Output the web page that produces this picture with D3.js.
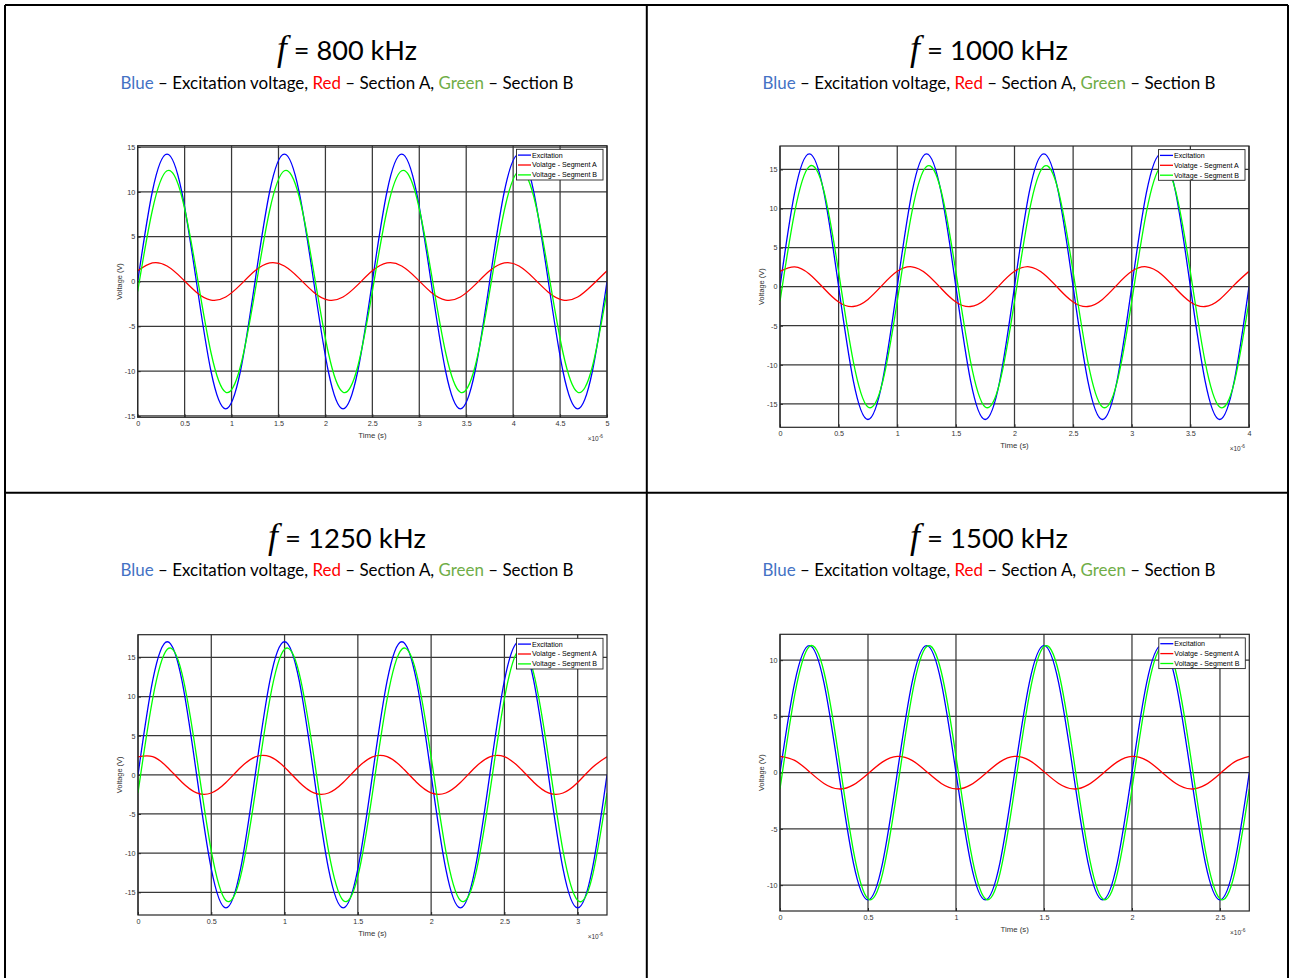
<!DOCTYPE html>
<html><head><meta charset="utf-8">
<script src="https://cdn.jsdelivr.net/npm/d3@7"></script>
<style>body{margin:0;background:#fff}svg{display:block}</style>
</head><body>
<svg id="c" width="1290" height="978"></svg>
<script>
// ---------------- DATA ----------------
const freqsKHz = [800, 1000, 1250, 1500];
const seriesNames = ["Excitation", "Volatge - Segment A", "Voltage - Segment B"];
const seriesColors = ["#0000ff", "#ff0000", "#00ff00"];

// sample times in microseconds (1/8-period steps, 4 periods shown per panel)
const time800 = [0,0.15625,0.3125,0.46875,0.625,0.78125,0.9375,1.09375,1.25,1.40625,1.5625,1.71875,1.875,2.03125,2.1875,2.34375,2.5,2.65625,2.8125,2.96875,3.125,3.28125,3.4375,3.59375,3.75,3.90625,4.0625,4.21875,4.375,4.53125,4.6875,4.84375,5];
const time1000 = [0,0.125,0.25,0.375,0.5,0.625,0.75,0.875,1,1.125,1.25,1.375,1.5,1.625,1.75,1.875,2,2.125,2.25,2.375,2.5,2.625,2.75,2.875,3,3.125,3.25,3.375,3.5,3.625,3.75,3.875,4];
const time1250 = [0,0.1,0.2,0.3,0.4,0.5,0.6,0.7,0.8,0.9,1,1.1,1.2,1.3,1.4,1.5,1.6,1.7,1.8,1.9,2,2.1,2.2,2.3,2.4,2.5,2.6,2.7,2.8,2.9,3,3.1,3.2];
const time1500 = [0,0.08333,0.16667,0.25,0.33333,0.41667,0.5,0.58333,0.66667,0.75,0.83333,0.91667,1,1.08333,1.16667,1.25,1.33333,1.41667,1.5,1.58333,1.66667,1.75,1.83333,1.91667,2,2.08333,2.16667,2.25,2.33333,2.41667,2.5,2.58333,2.66667];

// voltages (V)
const excitation800 = [0,10.04,14.2,10.04,0,-10.04,-14.2,-10.04, 0,10.04,14.2,10.04,0,-10.04,-14.2,-10.04, 0,10.04,14.2,10.04,0,-10.04,-14.2,-10.04, 0,10.04,14.2,10.04,0,-10.04,-14.2,-10.04, 0];
const segmentA800 = [1.19,2.07,1.73,0.38,-1.19,-2.07,-1.73,-0.38, 1.19,2.07,1.73,0.38,-1.19,-2.07,-1.73,-0.38, 1.19,2.07,1.73,0.38,-1.19,-2.07,-1.73,-0.38, 1.19,2.07,1.73,0.38,-1.19,-2.07,-1.73,-0.38, 1.19];
const segmentB800 = [-1.10,7.95,12.35,9.51,1.10,-7.95,-12.35,-9.51, -1.10,7.95,12.35,9.51,1.10,-7.95,-12.35,-9.51, -1.10,7.95,12.35,9.51,1.10,-7.95,-12.35,-9.51, -1.10,7.95,12.35,9.51,1.10,-7.95,-12.35,-9.51, -1.10];

const excitation1000 = [0,12.02,17,12.02,0,-12.02,-17,-12.02, 0,12.02,17,12.02,0,-12.02,-17,-12.02, 0,12.02,17,12.02,0,-12.02,-17,-12.02, 0,12.02,17,12.02,0,-12.02,-17,-12.02, 0];
const segmentA1000 = [1.96,2.54,1.63,-0.23,-1.96,-2.54,-1.63,0.23, 1.96,2.54,1.63,-0.23,-1.96,-2.54,-1.63,0.23, 1.96,2.54,1.63,-0.23,-1.96,-2.54,-1.63,0.23, 1.96,2.54,1.63,-0.23,-1.96,-2.54,-1.63,0.23, 1.96];
const segmentB1000 = [-1.88,9.55,15.39,12.21,1.88,-9.55,-15.39,-12.21, -1.88,9.55,15.39,12.21,1.88,-9.55,-15.39,-12.21, -1.88,9.55,15.39,12.21,1.88,-9.55,-15.39,-12.21, -1.88,9.55,15.39,12.21,1.88,-9.55,-15.39,-12.21, -1.88];

const excitation1250 = [0,12.02,17,12.02,0,-12.02,-17,-12.02, 0,12.02,17,12.02,0,-12.02,-17,-12.02, 0,12.02,17,12.02,0,-12.02,-17,-12.02, 0,12.02,17,12.02,0,-12.02,-17,-12.02, 0];
const segmentA1250 = [2.30,2.32,0.98,-0.94,-2.30,-2.32,-0.98,0.94, 2.30,2.32,0.98,-0.94,-2.30,-2.32,-0.98,0.94, 2.30,2.32,0.98,-0.94,-2.30,-2.32,-0.98,0.94, 2.30,2.32,0.98,-0.94,-2.30,-2.32,-0.98,0.94, 2.30];
const segmentB1250 = [-2.30,9.71,16.04,12.97,2.30,-9.71,-16.04,-12.97, -2.30,9.71,16.04,12.97,2.30,-9.71,-16.04,-12.97, -2.30,9.71,16.04,12.97,2.30,-9.71,-16.04,-12.97, -2.30,9.71,16.04,12.97,2.30,-9.71,-16.04,-12.97, -2.30];

const excitation1500 = [0,7.99,11.3,7.99,0,-7.99,-11.3,-7.99, 0,7.99,11.3,7.99,0,-7.99,-11.3,-7.99, 0,7.99,11.3,7.99,0,-7.99,-11.3,-7.99, 0,7.99,11.3,7.99,0,-7.99,-11.3,-7.99, 0];
const segmentA1500 = [1.45,1.09,0.09,-0.96,-1.45,-1.09,-0.09,0.96, 1.45,1.09,0.09,-0.96,-1.45,-1.09,-0.09,0.96, 1.45,1.09,0.09,-0.96,-1.45,-1.09,-0.09,0.96, 1.45,1.09,0.09,-0.96,-1.45,-1.09,-0.09,0.96, 1.45];
const segmentB1500 = [-1.45,6.90,11.21,8.95,1.45,-6.90,-11.21,-8.95, -1.45,6.90,11.21,8.95,1.45,-6.90,-11.21,-8.95, -1.45,6.90,11.21,8.95,1.45,-6.90,-11.21,-8.95, -1.45,6.90,11.21,8.95,1.45,-6.90,-11.21,-8.95, -1.45];

// axis extents and tick labels
const xMax = [5, 4, 3.2, 2.66667];
const yMax = [15.15, 18, 17.9, 12.3];
const xTicks800 = [0,0.5,1,1.5,2,2.5,3,3.5,4,4.5,5];
const xTicks1000 = [0,0.5,1,1.5,2,2.5,3,3.5,4];
const xTicks1250 = [0,0.5,1,1.5,2,2.5,3];
const xTicks1500 = [0,0.5,1,1.5,2,2.5];
const yTicks800 = [-15,-10,-5,0,5,10,15];
const yTicks1000 = [-15,-10,-5,0,5,10,15];
const yTicks1250 = [-15,-10,-5,0,5,10,15];
const yTicks1500 = [-10,-5,0,5,10];
const xLabel = "Time (s)";
const yLabel = "Voltage (V)";

// ---------------- LAYOUT ----------------
const svg = d3.select("#c");
const panels = [
  {f: freqsKHz[0], t: time800,  s: [excitation800, segmentA800, segmentB800],   xMax: xMax[0], yMax: yMax[0], xt: xTicks800,  yt: yTicks800,  box: [137.7,145.7,607,417.3], cx: 347, top: 5},
  {f: freqsKHz[1], t: time1000, s: [excitation1000, segmentA1000, segmentB1000], xMax: xMax[1], yMax: yMax[1], xt: xTicks1000, yt: yTicks1000, box: [780,146,1249,427.3],    cx: 989, top: 5},
  {f: freqsKHz[2], t: time1250, s: [excitation1250, segmentA1250, segmentB1250], xMax: xMax[2], yMax: yMax[2], xt: xTicks1250, yt: yTicks1250, box: [138,634.7,607,915],      cx: 347, top: 492.7},
  {f: freqsKHz[3], t: time1500, s: [excitation1500, segmentA1500, segmentB1500], xMax: xMax[3], yMax: yMax[3], xt: xTicks1500, yt: yTicks1500, box: [780,634.3,1249.3,911],   cx: 989, top: 492.7}
];

// table borders
const borders = svg.append("g").attr("stroke", "#000").attr("stroke-width", 2);
[[5,5,5,978],[646.8,5,646.8,978],[1288,5,1288,978],[5,5,1288,5],[5,492.7,1288,492.7]].forEach(l =>
  borders.append("line").attr("x1", l[0]).attr("y1", l[1]).attr("x2", l[2]).attr("y2", l[3]));

function fitText(sel, target, base) {
  const w = sel.node().getComputedTextLength();
  sel.attr("font-size", base * target / w);
}
const tickFmt = d => String(d);

panels.forEach((p, pi) => {
  // ---- headings
  const title = svg.append("text").attr("x", p.cx).attr("y", p.top + 55)
    .attr("text-anchor", "middle").attr("font-family", "Lato, 'Open Sans', sans-serif").attr("font-size", 22).attr("fill", "#000");
  title.append("tspan").attr("font-family", "'Liberation Serif', 'DejaVu Serif', serif").attr("font-style", "italic")
    .attr("font-size", "1.3em").text("f");
  title.append("tspan").attr("font-size", "1em").text(" = " + p.f + " kHz");
  fitText(title, p.f >= 1000 ? 158 : 140, 22);

  const sub = svg.append("text").attr("x", p.cx).attr("y", p.top + 83.5)
    .attr("text-anchor", "middle").attr("font-family", "Lato, 'Open Sans', sans-serif").attr("font-size", 17).attr("fill", "#000");
  sub.append("tspan").attr("fill", "#4472c4").text("Blue");
  sub.append("tspan").text(" \u2013 Excitation voltage, ");
  sub.append("tspan").attr("fill", "#ff0000").text("Red");
  sub.append("tspan").text(" \u2013 Section A, ");
  sub.append("tspan").attr("fill", "#70ad47").text("Green");
  sub.append("tspan").text(" \u2013 Section B");
  fitText(sub, 453, 17);

  // ---- axes
  const [L, T, R, B] = p.box;
  const x = d3.scaleLinear().domain([0, p.xMax]).range([L, R]);
  const y = d3.scaleLinear().domain([-p.yMax, p.yMax]).range([B, T]);
  const g = svg.append("g");
  g.append("rect").attr("x", L).attr("y", T).attr("width", R - L).attr("height", B - T).attr("fill", "#fff");

  const grid = g.append("g").attr("stroke", "#383838").attr("stroke-width", 1.25);
  p.xt.forEach(v => grid.append("line").attr("x1", x(v)).attr("x2", x(v)).attr("y1", T).attr("y2", B));
  p.yt.forEach(v => grid.append("line").attr("y1", y(v)).attr("y2", y(v)).attr("x1", L).attr("x2", R));

  const xAxis = g.append("g").attr("transform", `translate(0,${B})`)
    .call(d3.axisBottom(x).tickValues(p.xt).tickFormat(tickFmt).tickSize(-3).tickPadding(4));
  const yAxis = g.append("g").attr("transform", `translate(${L},0)`)
    .call(d3.axisLeft(y).tickValues(p.yt).tickFormat(tickFmt).tickSize(-3).tickPadding(2.5));
  [xAxis, yAxis].forEach(a => {
    a.select(".domain").remove();
    a.selectAll("line").attr("stroke", "#262626");
    a.selectAll("text").attr("font-family", "'Liberation Sans', Arial, sans-serif").attr("font-size", 7.2).attr("fill", "#333");
  });

  // curves
  const clipId = "clip" + pi;
  g.append("clipPath").attr("id", clipId).append("rect").attr("x", L).attr("y", T).attr("width", R - L).attr("height", B - T);
  const line = d3.line().x(d => x(d[0])).y(d => y(d[1])).curve(d3.curveNatural);
  p.s.forEach((vals, si) => {
    g.append("path").attr("clip-path", `url(#${clipId})`)
      .attr("d", line(p.t.map((t, i) => [t, vals[i]])))
      .attr("fill", "none").attr("stroke", seriesColors[si]).attr("stroke-width", 1.3);
  });

  // box
  g.append("rect").attr("x", L).attr("y", T).attr("width", R - L).attr("height", B - T)
    .attr("fill", "none").attr("stroke", "#262626").attr("stroke-width", 1.2);

  // labels
  g.append("text").attr("x", (L + R) / 2).attr("y", B + 21).attr("text-anchor", "middle")
    .attr("font-family", "'Liberation Sans', Arial, sans-serif").attr("font-size", 7.8).attr("fill", "#333").text(xLabel);
  g.append("text").attr("transform", `translate(${L - 16},${(T + B) / 2}) rotate(-90)`).attr("text-anchor", "middle")
    .attr("font-family", "'Liberation Sans', Arial, sans-serif").attr("font-size", 7.4).attr("fill", "#333").text(yLabel);
  const ex = g.append("text").attr("x", R - 4).attr("y", B + 23.5).attr("text-anchor", "end")
    .attr("font-family", "'Liberation Sans', Arial, sans-serif").attr("font-size", 6.5).attr("fill", "#333");
  ex.append("tspan").text("\u00d710");
  ex.append("tspan").attr("dy", -3).attr("font-size", 4.8).text("-6");

  // legend
  const lw = 86.5, lh = 30.7, lx = R - 4 - lw, ly = T + 3.6;
  const lg = g.append("g");
  lg.append("rect").attr("x", lx).attr("y", ly).attr("width", lw).attr("height", lh)
    .attr("fill", "#fff").attr("stroke", "#262626").attr("stroke-width", 0.9);
  seriesNames.forEach((n, si) => {
    const yy = ly + 5.8 + si * 9.9;
    lg.append("line").attr("x1", lx + 1.5).attr("x2", lx + 14.5).attr("y1", yy).attr("y2", yy)
      .attr("stroke", seriesColors[si]).attr("stroke-width", 1.3);
    lg.append("text").attr("x", lx + 15.5).attr("y", yy + 2.4)
      .attr("font-family", "'Liberation Sans', Arial, sans-serif").attr("font-size", 7.1).attr("fill", "#000").text(n);
  });
});
</script>
</body></html>
